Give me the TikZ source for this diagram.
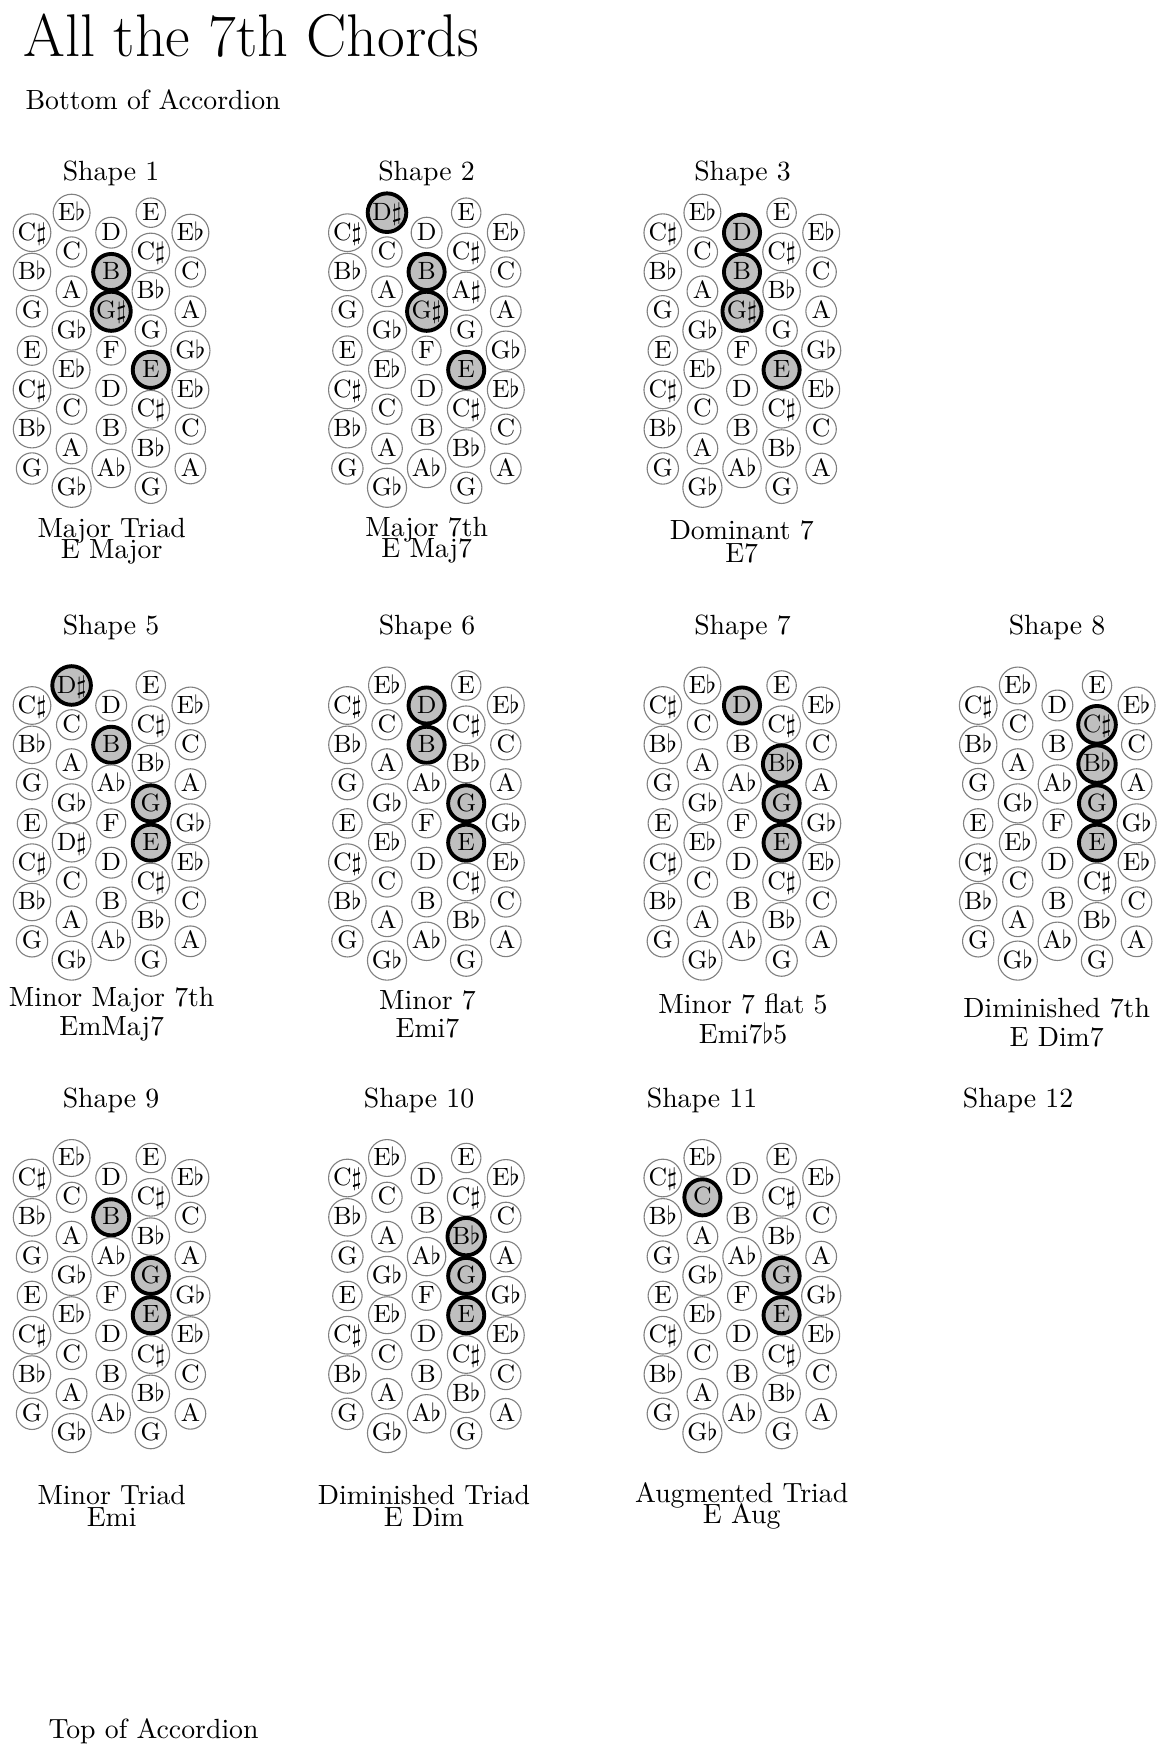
\documentclass[tikz,border=0pt]{standalone}
\usepackage{tikz}

\newcommand{\bcA}{btn/C$\sharp$, btn/B$\flat$, btn/G, btn/E, btn/C$\sharp$, btn/B$\flat$, btn/G}
\newcommand{\bcB}{btn/E$\flat$, btn/C, btn/A, btn/G$\flat$, btn/E$\flat$, btn/C, btn/A, btn/G$\flat$}
\newcommand{\bcBa}{sel/D$\sharp$, btn/C, btn/A, btn/G$\flat$, btn/E$\flat$, btn/C, btn/A, btn/G$\flat$}
\newcommand{\bcBb}{sel/D$\sharp$, btn/C, btn/A, btn/G$\flat$, btn/D$\sharp$, btn/C, btn/A, btn/G$\flat$}
\newcommand{\bcBc}{btn/E$\flat$, sel/C, btn/A, btn/G$\flat$, btn/E$\flat$, btn/C, btn/A, btn/G$\flat$}
\newcommand{\bcC}{btn/D, btn/B, btn/A$\flat$, btn/F, btn/D, btn/B, btn/A$\flat$}
\newcommand{\bcCa}{btn/D, sel/B, sel/G$\sharp$, btn/F, btn/D, btn/B, btn/A$\flat$}
\newcommand{\bcCb}{sel/D, sel/B, sel/G$\sharp$, btn/F, btn/D, btn/B, btn/A$\flat$}
\newcommand{\bcCc}{btn/D, sel/B, btn/A$\flat$, btn/F, btn/D, btn/B, btn/A$\flat$}
\newcommand{\bcCd}{sel/D, sel/B, btn/A$\flat$, btn/F, btn/D, btn/B, btn/A$\flat$}
\newcommand{\bcCe}{sel/D, btn/B, btn/A$\flat$, btn/F, btn/D, btn/B, btn/A$\flat$}
\newcommand{\bcDa}{btn/E, btn/C$\sharp$, btn/B$\flat$, btn/G, sel/E, btn/C$\sharp$, btn/B$\flat$, btn/G}
\newcommand{\bcDb}{btn/E, btn/C$\sharp$, btn/A$\sharp$, btn/G, sel/E, btn/C$\sharp$, btn/B$\flat$, btn/G}
\newcommand{\bcDc}{btn/E, btn/C$\sharp$, btn/B$\flat$, sel/G, sel/E, btn/C$\sharp$, btn/B$\flat$, btn/G}
\newcommand{\bcDd}{btn/E, btn/C$\sharp$, sel/B$\flat$, sel/G, sel/E, btn/C$\sharp$, btn/B$\flat$, btn/G}
\newcommand{\bcDe}{btn/E, sel/C$\sharp$, sel/B$\flat$, sel/G, sel/E, btn/C$\sharp$, btn/B$\flat$, btn/G}
\newcommand{\bcE}{btn/E$\flat$, btn/C, btn/A, btn/G$\flat$, btn/E$\flat$, btn/C, btn/A}

\newcommand{\basscol}[5]{%
  \foreach \st/\lab [count=\r] in #5 {
    \node[\st] (#3-#4-\r) at ({#1}, {#2+(\r-1)*39.3}) {\lab};
  }}
\newcommand{\bassgrid}[8]{%
  \basscol{#1-79.2}{#2+20}{#3}{1}{#4}
  \basscol{#1-39.6}{#2}{#3}{2}{#5}
  \basscol{#1}{#2+20}{#3}{3}{#6}
  \basscol{#1+39.6}{#2}{#3}{4}{#7}
  \basscol{#1+79.2}{#2+20}{#3}{5}{#8}}

\begin{document}
\begin{tikzpicture}[x=0.36pt, y=-0.36pt,
  btn/.style={circle, draw=gray, inner sep=0.4pt, text height=6.3pt,
              text depth=0.8pt, font=\fontsize{9}{9}\selectfont},
  sel/.style={btn, draw=black, fill=black!25, line width=1.4pt, minimum size=13pt},
  head/.style={anchor=base, inner sep=0pt},
  chord/.style={anchor=north, align=center, inner sep=0pt}]
  \useasboundingbox (0,0) rectangle (1169,1752);
  \node[anchor=base west, inner sep=0pt, font=\fontsize{21.7}{26}\selectfont] (title) at (23,56.7) {All the 7th Chords};
  \node[anchor=base west, inner sep=0pt] (bottom) at (25,110) {Bottom of Accordion};
  \node[anchor=base west, inner sep=0pt] (top) at (48,1738) {Top of Accordion};
  \foreach \x/\y/\n in {111/181/1, 426.5/181/2, 742.5/181/3,
                        111/635/5, 427/635/6, 742.5/635/7, 1057/635/8,
                        111/1107/9, 419/1107/10, 702/1107/11, 1018/1107/12}
    \node[head] (t\n) at (\x,\y) {Shape \n};
  \bassgrid{111.2}{212.7}{s1}{\bcA}{\bcB}{\bcCa}{\bcDa}{\bcE}
  \bassgrid{426.6}{212.7}{s2}{\bcA}{\bcBa}{\bcCa}{\bcDb}{\bcE}
  \bassgrid{742}{212.7}{s3}{\bcA}{\bcB}{\bcCb}{\bcDa}{\bcE}
  \bassgrid{111.2}{685.5}{s5}{\bcA}{\bcBb}{\bcCc}{\bcDc}{\bcE}
  \bassgrid{426.6}{685.5}{s6}{\bcA}{\bcB}{\bcCd}{\bcDc}{\bcE}
  \bassgrid{742}{685.5}{s7}{\bcA}{\bcB}{\bcCe}{\bcDd}{\bcE}
  \bassgrid{1057.4}{685.5}{s8}{\bcA}{\bcB}{\bcC}{\bcDe}{\bcE}
  \bassgrid{111.2}{1158}{s9}{\bcA}{\bcB}{\bcCc}{\bcDc}{\bcE}
  \bassgrid{426.6}{1158}{s10}{\bcA}{\bcB}{\bcC}{\bcDd}{\bcE}
  \bassgrid{742}{1158}{s11}{\bcA}{\bcBc}{\bcC}{\bcDc}{\bcE}
  \foreach \x/\y/\n/\txt in {111.7/518/1/{Major Triad\\[-4.6pt]E Major},
      426.7/517/2/{Major 7th\\[-4.6pt]E Maj7}, 741.7/520/3/{Dominant 7\\[-3.6pt]E7},
      111.7/987/5/{Minor Major 7th\\[-1.8pt]EmMaj7}, 427.5/990/6/{Minor 7\\[-1.8pt]Emi7},
      743/993/7/{Minor 7 flat 5\\[-1.2pt]Emi7$\flat$5},
      1056.7/998/8/{Diminished 7th\\[-1.8pt]E Dim7},
      111.7/1485/9/{Minor Triad\\[-4.2pt]Emi}, 424/1485/10/{Diminished Triad\\[-4.2pt]E Dim},
      741.7/1482/11/{Augmented Triad\\[-4.6pt]E Aug}}
    \node[chord] (c\n) at (\x,\y) {\txt};
\end{tikzpicture}
\end{document}
